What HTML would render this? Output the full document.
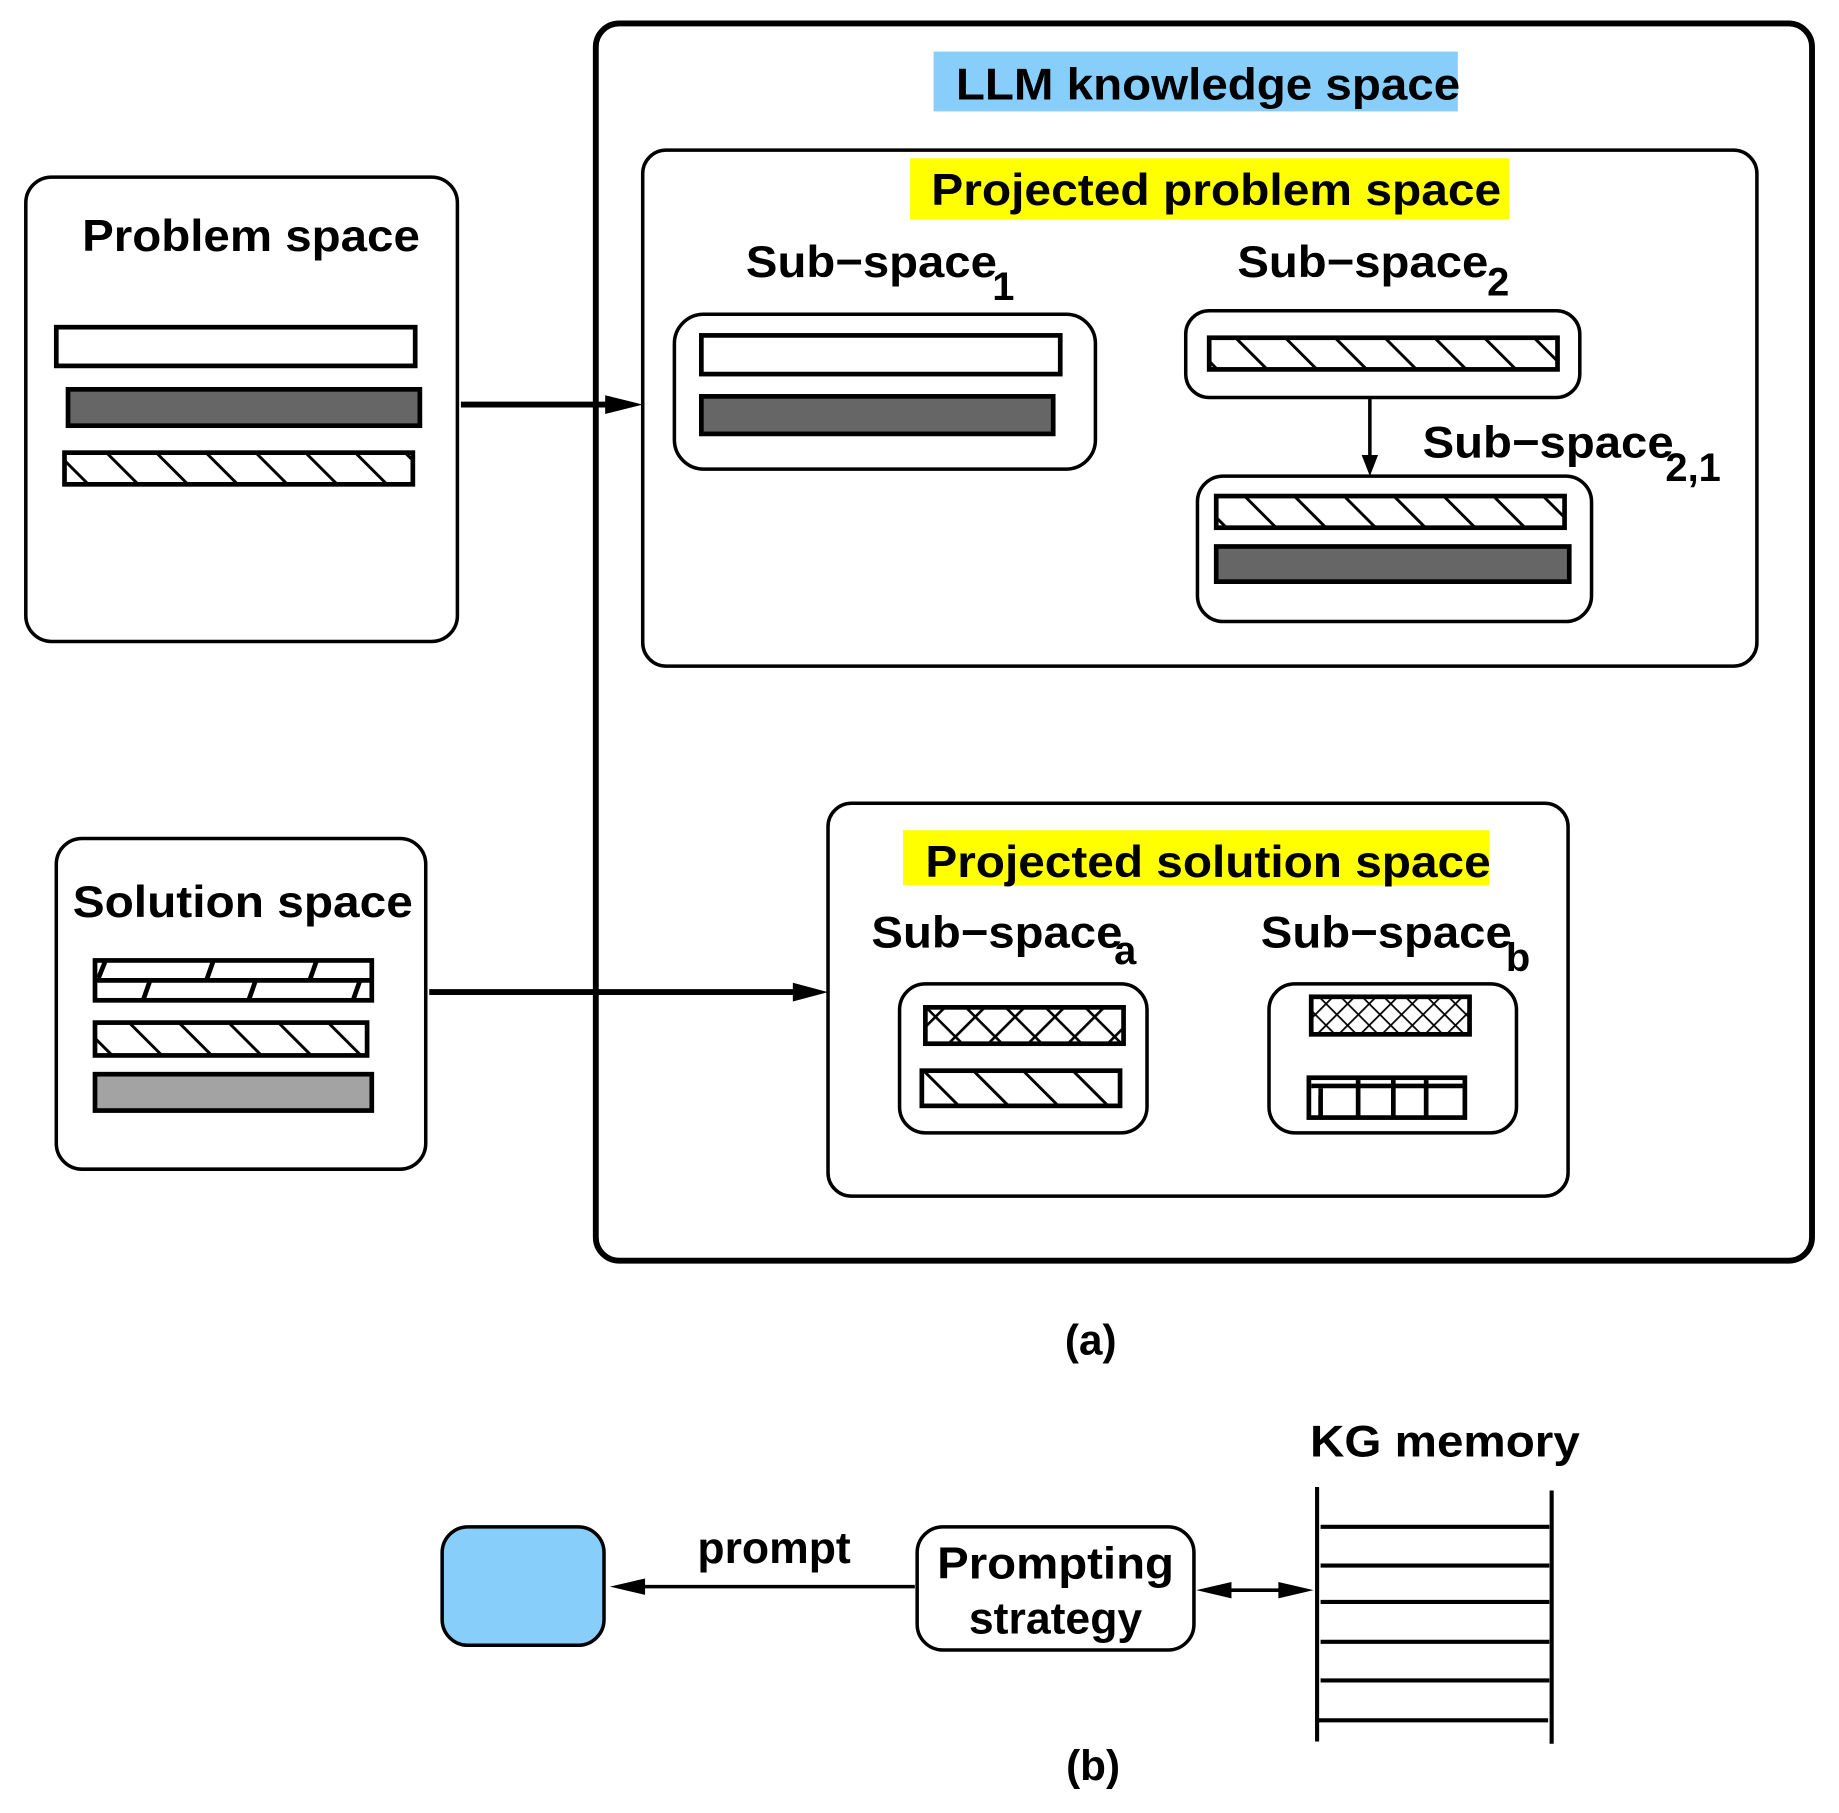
<!DOCTYPE html>
<html><head><meta charset="utf-8"><style>
html,body{margin:0;padding:0;background:#fff;}
svg{display:block;}
text{font-family:"Liberation Sans",Arial,sans-serif;font-weight:bold;fill:#000;}
</style></head><body>
<svg width="1839" height="1813" viewBox="0 0 1568 1546" preserveAspectRatio="none" xmlns="http://www.w3.org/2000/svg">
<defs>
<pattern id="hatch" width="30" height="30" patternUnits="userSpaceOnUse" patternTransform="rotate(-45)">
<rect width="30" height="30" fill="#fff"/><line x1="0" y1="0" x2="0" y2="30" stroke="#000" stroke-width="5"/>
</pattern>
<pattern id="cross" width="24" height="24" patternUnits="userSpaceOnUse" patternTransform="rotate(45)">
<rect width="24" height="24" fill="#fff"/><line x1="0" y1="0" x2="0" y2="24" stroke="#000" stroke-width="4.5"/><line x1="0" y1="0" x2="24" y2="0" stroke="#000" stroke-width="4.5"/>
</pattern>
<pattern id="fcross" width="13" height="13" patternUnits="userSpaceOnUse" patternTransform="rotate(45)">
<rect width="13" height="13" fill="#fff"/><line x1="0" y1="0" x2="0" y2="13" stroke="#000" stroke-width="3"/><line x1="0" y1="0" x2="13" y2="0" stroke="#000" stroke-width="3"/>
</pattern>
</defs>

<rect x="508" y="20" width="1037" height="1055" rx="20" fill="none" stroke="#000" stroke-width="5"/>
<rect x="796" y="44" width="447" height="51" fill="#87cefa"/>
<text x="1030" y="85" font-size="38" text-anchor="middle" textLength="430" lengthAdjust="spacingAndGlyphs">LLM knowledge space</text>

<rect x="548" y="128" width="950" height="440" rx="20" fill="none" stroke="#000" stroke-width="3"/>
<rect x="776" y="135" width="511" height="52" fill="#ffff00"/>
<text x="1037" y="175" font-size="38" text-anchor="middle" textLength="486" lengthAdjust="spacingAndGlyphs">Projected problem space</text>

<text x="636" y="236" font-size="38" textLength="214" lengthAdjust="spacingAndGlyphs">Sub−space</text>
<text x="846" y="256" font-size="34">1</text>
<text x="1055" y="236" font-size="38" textLength="214" lengthAdjust="spacingAndGlyphs">Sub−space</text>
<text x="1268" y="252" font-size="34">2</text>

<rect x="575" y="268" width="359" height="132" rx="25" fill="none" stroke="#000" stroke-width="3"/>
<rect x="598" y="286" width="306" height="33" fill="#fff" stroke="#000" stroke-width="4"/>
<rect x="598" y="338" width="300" height="32" fill="#666" stroke="#000" stroke-width="4"/>

<rect x="1011" y="265" width="336" height="74" rx="20" fill="none" stroke="#000" stroke-width="3"/>
<rect x="1031" y="288" width="297" height="27" fill="url(#hatch)" stroke="#000" stroke-width="4"/>

<line x1="1168" y1="340" x2="1168" y2="390" stroke="#000" stroke-width="3"/>
<polygon points="1161,388 1175,388 1168,406" fill="#000"/>
<text x="1213" y="390" font-size="38" textLength="214" lengthAdjust="spacingAndGlyphs">Sub−space</text>
<text x="1420" y="410" font-size="34">2,1</text>

<rect x="1021" y="406" width="336" height="124" rx="22" fill="none" stroke="#000" stroke-width="3"/>
<rect x="1037" y="423" width="297" height="27" fill="url(#hatch)" stroke="#000" stroke-width="4"/>
<rect x="1037" y="466" width="301" height="30" fill="#666" stroke="#000" stroke-width="4"/>

<rect x="22" y="151" width="368" height="396" rx="22" fill="none" stroke="#000" stroke-width="3"/>
<text x="70" y="214" font-size="38" textLength="288" lengthAdjust="spacingAndGlyphs">Problem space</text>
<rect x="48" y="279" width="306" height="33" fill="#fff" stroke="#000" stroke-width="4"/>
<rect x="58" y="332" width="300" height="31" fill="#666" stroke="#000" stroke-width="4"/>
<rect x="55" y="386" width="297" height="27" fill="url(#hatch)" stroke="#000" stroke-width="4"/>

<line x1="393" y1="345" x2="530" y2="345" stroke="#000" stroke-width="5"/>
<polygon points="516,337 548,345 516,353" fill="#000"/>

<rect x="48" y="715" width="315" height="282" rx="22" fill="none" stroke="#000" stroke-width="3"/>
<text x="62" y="782" font-size="38" textLength="290" lengthAdjust="spacingAndGlyphs">Solution space</text>
<rect x="81" y="819" width="236" height="34" fill="#fff" stroke="#000" stroke-width="4"/>
<line x1="81" y1="836" x2="317" y2="836" stroke="#000" stroke-width="4"/>
<g stroke="#000" stroke-width="4">
<line x1="90" y1="819" x2="84" y2="834"/><line x1="182" y1="819" x2="176" y2="836"/><line x1="270" y1="819" x2="264" y2="836"/>
<line x1="128" y1="836" x2="122" y2="853"/><line x1="218" y1="836" x2="212" y2="853"/><line x1="307" y1="836" x2="301" y2="853"/>
</g>
<rect x="81" y="872" width="232" height="28" fill="url(#hatch)" stroke="#000" stroke-width="4"/>
<rect x="81" y="916" width="236" height="31" fill="#a3a3a3" stroke="#000" stroke-width="4"/>

<line x1="366" y1="846" x2="688" y2="846" stroke="#000" stroke-width="5"/>
<polygon points="676,838 706,846 676,854" fill="#000"/>

<rect x="706" y="685" width="631" height="335" rx="20" fill="none" stroke="#000" stroke-width="3"/>
<rect x="770" y="708" width="500" height="47" fill="#ffff00"/>
<text x="1030" y="748" font-size="38" text-anchor="middle" textLength="482" lengthAdjust="spacingAndGlyphs">Projected solution space</text>
<text x="743" y="808" font-size="38" textLength="214" lengthAdjust="spacingAndGlyphs">Sub−space</text>
<text x="950" y="822" font-size="34">a</text>
<text x="1075" y="808" font-size="38" textLength="214" lengthAdjust="spacingAndGlyphs">Sub−space</text>
<text x="1284" y="828" font-size="34">b</text>

<rect x="767" y="839" width="211" height="127" rx="22" fill="none" stroke="#000" stroke-width="3"/>
<rect x="789" y="859" width="169" height="31" fill="url(#cross)" stroke="#000" stroke-width="4"/>
<rect x="786" y="913" width="169" height="30" fill="url(#hatch)" stroke="#000" stroke-width="4"/>

<rect x="1082" y="839" width="211" height="127" rx="22" fill="none" stroke="#000" stroke-width="3"/>
<rect x="1118" y="850" width="135" height="32" fill="url(#fcross)" stroke="#000" stroke-width="4"/>
<rect x="1116" y="919" width="133" height="34" fill="#fff" stroke="#000" stroke-width="4"/>
<g stroke="#000" stroke-width="4">
<line x1="1118" y1="926" x2="1247" y2="926"/>
<line x1="1126" y1="928" x2="1126" y2="953"/><line x1="1158" y1="921" x2="1158" y2="953"/><line x1="1188" y1="921" x2="1188" y2="953"/><line x1="1216" y1="921" x2="1216" y2="953"/>
</g>
<rect x="1120" y="928" width="4" height="6" fill="#fff"/>

<text x="930" y="1155" font-size="36" text-anchor="middle">(a)</text>

<rect x="377" y="1302" width="138" height="101" rx="22" fill="#87cefa" stroke="#000" stroke-width="3"/>
<line x1="540" y1="1353" x2="780" y2="1353" stroke="#000" stroke-width="3"/>
<polygon points="520,1353 550,1346 550,1360" fill="#000"/>
<text x="660" y="1333" font-size="38" text-anchor="middle">prompt</text>
<rect x="782" y="1302" width="236" height="105" rx="22" fill="none" stroke="#000" stroke-width="3"/>
<text x="900" y="1346" font-size="38" text-anchor="middle" textLength="202" lengthAdjust="spacingAndGlyphs">Prompting</text>
<text x="900" y="1393" font-size="38" text-anchor="middle">strategy</text>
<line x1="1045" y1="1356" x2="1095" y2="1356" stroke="#000" stroke-width="3"/>
<polygon points="1020,1356 1050,1349 1050,1363" fill="#000"/>
<polygon points="1120,1356 1090,1349 1090,1363" fill="#000"/>

<text x="1117" y="1242" font-size="38" textLength="230" lengthAdjust="spacingAndGlyphs">KG memory</text>
<g stroke="#000" stroke-width="3.5">
<line x1="1123" y1="1268" x2="1123" y2="1485"/>
<line x1="1323" y1="1271" x2="1323" y2="1487"/>
<line x1="1126" y1="1302" x2="1321" y2="1302"/>
<line x1="1126" y1="1335" x2="1321" y2="1335"/>
<line x1="1126" y1="1366" x2="1321" y2="1366"/>
<line x1="1126" y1="1400" x2="1321" y2="1400"/>
<line x1="1126" y1="1433" x2="1321" y2="1433"/>
<line x1="1124" y1="1467" x2="1320" y2="1467"/>
</g>
<text x="932" y="1518" font-size="36" text-anchor="middle">(b)</text>
</svg>
</body></html>
